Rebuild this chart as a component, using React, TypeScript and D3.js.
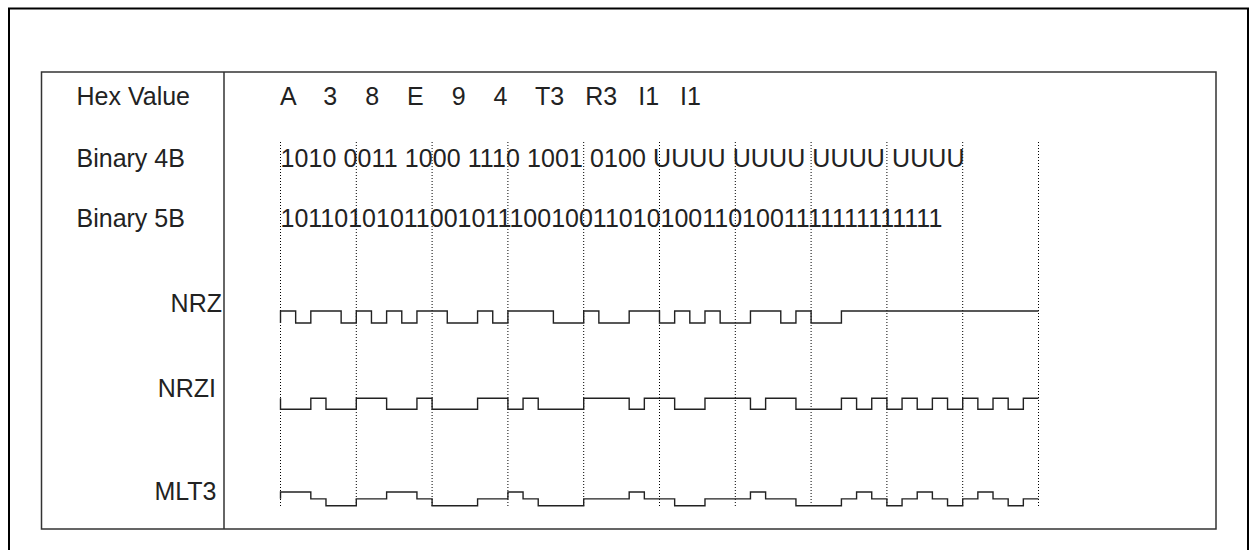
import React from "react";
import * as d3 from "d3";

// 4B/5B encoding example: hex nibbles, their 4B and 5B codes, and three line codes
const hexValues = ["A", "3", "8", "E", "9", "4", "T3", "R3", "I1", "I1"];
const binary4B = ["1010", "0011", "1000", "1110", "1001", "0100", "UUUU", "UUUU", "UUUU", "UUUU"];
const binary5B = ["10110", "10101", "10010", "11100", "10011", "01010", "01101", "00111", "11111", "11111"];

// signal levels per bit, one group of five per symbol
const nrziLevels = [
  [0, 0, 1, 0, 0], [1, 1, 0, 0, 1], [0, 0, 0, 1, 1], [0, 1, 0, 0, 0], [1, 1, 1, 0, 1],
  [1, 0, 0, 1, 1], [1, 0, 1, 1, 0], [0, 0, 1, 0, 1], [0, 1, 0, 1, 0], [1, 0, 1, 0, 1],
];
const mlt3Levels = [
  [1, 1, 0, -1, -1], [0, 0, 1, 1, 0], [-1, -1, -1, 0, 0], [1, 0, -1, -1, -1], [0, 0, 0, 1, 0],
  [0, -1, -1, 0, 0], [0, 1, 0, 0, -1], [-1, -1, 0, 1, 0], [-1, 0, 1, 0, -1], [0, 1, 0, -1, 0],
];
// level just before the first bit
const nrzStart = 0;
const nrziStart = 1;
const mlt3Start = 0;

const W = 1257;
const H = 550;
const FONT = "'Liberation Sans', Arial, Helvetica, sans-serif";
const FS = 25;
const INK = "#222";

const nrzLevels = binary5B.map((s) => s.split("").map(Number));
const nBits = binary5B.length * 5;

const x = d3.scaleLinear().domain([0, nBits]).range([280.5, 1038.5]);
const yNrz = d3.scaleLinear().domain([0, 1]).range([323, 311]);
const yNrzi = d3.scaleLinear().domain([0, 1]).range([409.3, 398.3]);
const yMlt3 = d3.scaleLinear().domain([-1, 1]).range([505.7, 492]);

type Pt = { i: number; v: number };

function stepPoints(groups: number[][], start: number): Pt[] {
  const flat = groups.flat();
  const pts: Pt[] = [{ i: 0, v: start }];
  flat.forEach((v, i) => pts.push({ i, v }));
  pts.push({ i: flat.length, v: flat[flat.length - 1] });
  return pts;
}

function wavePath(groups: number[][], start: number, y: d3.ScaleLinear<number, number>) {
  return d3
    .line<Pt>()
    .x((d) => x(d.i))
    .y((d) => y(d.v))
    .curve(d3.curveStepAfter)(stepPoints(groups, start)) as string;
}

const App: React.FC = () => {
  const boundaries = d3.range(0, nBits + 1, 5);
  const hexText = hexValues.map((h) => h.padEnd(5)).join("").trimEnd();

  const rowLabels = [
    { text: "Hex Value", x: 76.5, y: 105, anchor: "start" },
    { text: "Binary 4B", x: 76.5, y: 166.5, anchor: "start" },
    { text: "Binary 5B", x: 76.5, y: 227, anchor: "start" },
    { text: "NRZ", x: 222, y: 312, anchor: "end" },
    { text: "NRZI", x: 216, y: 397, anchor: "end" },
    { text: "MLT3", x: 216.5, y: 500, anchor: "end" },
  ];

  return (
    <svg
      width={W}
      height={H}
      style={{ position: "absolute", left: 0, top: 0, background: "#fff" }}
      fontFamily={FONT}
    >
      {/* outer frame */}
      <rect x={9} y={8.5} width={1239} height={600} fill="none" stroke="#000" strokeWidth={2} />

      {/* table */}
      <rect x={41.5} y={72} width={1174.5} height={457} fill="none" stroke="#333" strokeWidth={1.5} />
      <line x1={224} x2={224} y1={72} y2={529} stroke="#333" strokeWidth={1.5} />

      {/* symbol boundaries */}
      {boundaries.map((b) => (
        <line
          key={b}
          x1={x(b)}
          x2={x(b)}
          y1={142}
          y2={507}
          stroke="#000"
          strokeWidth={1}
          strokeDasharray="1,2"
        />
      ))}

      {rowLabels.map((r) => (
        <text key={r.text} x={r.x} y={r.y} fontSize={FS} fill={INK} textAnchor={r.anchor as any}>
          {r.text}
        </text>
      ))}

      <text
        x={280}
        y={105}
        fontSize={FS}
        fill={INK}
        xmlSpace="preserve"
        style={{ whiteSpace: "pre" }}
        textLength={421}
        lengthAdjust="spacing"
      >
        {hexText}
      </text>
      <text x={280.5} y={166.5} fontSize={FS} fill={INK} textLength={684} lengthAdjust="spacing">
        {binary4B.join(" ")}
      </text>
      <text x={280.5} y={227} fontSize={FS} fill={INK}>
        {binary5B.join("")}
      </text>

      <path d={wavePath(nrzLevels, nrzStart, yNrz)} fill="none" stroke={INK} strokeWidth={1.4} />
      <path d={wavePath(nrziLevels, nrziStart, yNrzi)} fill="none" stroke={INK} strokeWidth={1.4} />
      <path d={wavePath(mlt3Levels, mlt3Start, yMlt3)} fill="none" stroke={INK} strokeWidth={1.4} />
    </svg>
  );
};

export default App;
